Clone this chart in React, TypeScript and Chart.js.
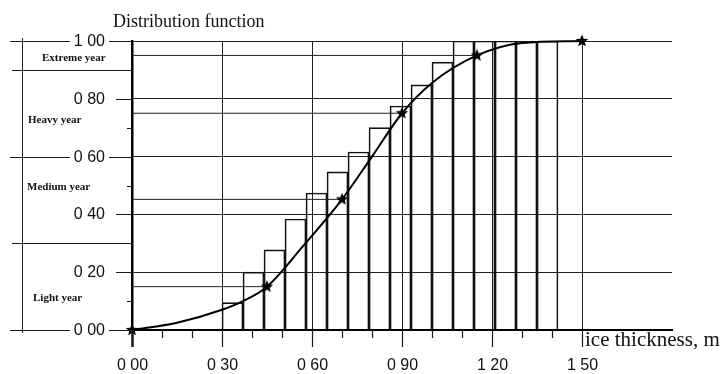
import React, { useEffect, useRef } from "react";
import { Chart, registerables } from "chart.js";

Chart.register(...registerables);

// ---- data ----
const binStarts = [0.30, 0.37, 0.44, 0.51, 0.58, 0.65, 0.72, 0.79, 0.86, 0.93, 1.00, 1.07, 1.14, 1.21, 1.28, 1.35];
const binWidth = 0.07;
const binValues = [0.095, 0.20, 0.277, 0.384, 0.474, 0.547, 0.616, 0.70, 0.775, 0.848, 0.927, 1.0, 1.0, 1.0, 1.0, 1.0];

const curveX = [0, 0.15, 0.30, 0.37, 0.45, 0.57, 0.70, 0.80, 0.90, 1.00, 1.15, 1.30, 1.50];
const curveY = [0, 0.025, 0.07, 0.10, 0.15, 0.29, 0.452, 0.60, 0.75, 0.855, 0.95, 0.993, 1.0];

const starX = [0, 0.45, 0.70, 0.90, 1.15, 1.50];
const starY = [0, 0.15, 0.452, 0.75, 0.95, 1.00];

const xTickValues = [0, 0.3, 0.6, 0.9, 1.2, 1.5];
const xTickLabels = ["0 00", "0 30", "0 60", "0 90", "1 20", "1 50"];
const xMinorTicks = [0.1, 0.2, 0.4, 0.5, 0.7, 0.8, 1.0, 1.1, 1.3, 1.4];

const yTickValues = [0, 0.2, 0.4, 0.6, 0.8, 1.0];
const yTickLabels = ["0 00", "0 20", "0 40", "0 60", "0 80", "1 00"];
const yMinorTicks = [0.1, 0.5, 0.7];

const yearNames = ["Light year", "Medium year", "Heavy year", "Extreme year"];
const yearBounds = [0.3, 0.9];
const yearLongBounds = [0, 0.6, 1.0];

const titleText = "Distribution function";
const xTitleText = "ice thickness, m";

// ---- layout (not data) ----
const yearLabelPos = [
  { px: 33, v: 0.111 },
  { px: 27, v: 0.495 },
  { px: 28, v: 0.727 },
  { px: 42, v: 0.941 },
];

function makeStar(): HTMLCanvasElement {
  const c = document.createElement("canvas");
  c.width = 14;
  c.height = 14;
  const g = c.getContext("2d")!;
  g.beginPath();
  for (let i = 0; i < 10; i++) {
    const r = i % 2 === 0 ? 6.5 : 2.9;
    const a = -Math.PI / 2 + (i * Math.PI) / 5;
    const px = 7 + r * Math.cos(a);
    const py = 7 + r * Math.sin(a);
    if (i === 0) g.moveTo(px, py);
    else g.lineTo(px, py);
  }
  g.closePath();
  g.fillStyle = "#000";
  g.fill();
  return c;
}

const overlay = {
  id: "overlay",
  afterDraw(chart: any) {
    const ctx: CanvasRenderingContext2D = chart.ctx;
    const xs = chart.scales.x;
    const ys = chart.scales.y;
    const x0 = xs.getPixelForValue(0);
    const y0 = ys.getPixelForValue(0);
    ctx.save();
    ctx.strokeStyle = "#1a1a1a";
    ctx.fillStyle = "#111";

    // x ticks below the axis
    ctx.lineWidth = 1.2;
    xMinorTicks.forEach((v) => {
      const p = Math.round(xs.getPixelForValue(v)) + 0.5;
      ctx.beginPath();
      ctx.moveTo(p, y0);
      ctx.lineTo(p, y0 + 8);
      ctx.stroke();
    });
    xTickValues.forEach((v, i) => {
      const p = Math.round(xs.getPixelForValue(v)) + 0.5;
      ctx.lineWidth = v === 0 ? 2.5 : 1.2;
      ctx.beginPath();
      ctx.moveTo(p, y0);
      ctx.lineTo(p, y0 + 17);
      ctx.stroke();
      ctx.font = "16px 'Liberation Sans', Arial, sans-serif";
      ctx.textAlign = "center";
      ctx.textBaseline = "middle";
      ctx.fillText(xTickLabels[i], p, y0 + 36);
    });

    // y ticks / labels
    ctx.lineWidth = 1;
    yMinorTicks.forEach((v) => {
      const p = Math.round(ys.getPixelForValue(v)) + 0.5;
      ctx.beginPath();
      ctx.moveTo(x0 - 5, p);
      ctx.lineTo(x0, p);
      ctx.stroke();
    });
    ctx.font = "16px 'Liberation Sans', Arial, sans-serif";
    ctx.textAlign = "right";
    ctx.textBaseline = "middle";
    yTickValues.forEach((v, i) => {
      const p = Math.round(ys.getPixelForValue(v)) + 0.5;
      const long = yearLongBounds.indexOf(v) >= 0;
      ctx.beginPath();
      ctx.moveTo(x0 - (long ? 23 : 16), p);
      ctx.lineTo(x0, p);
      ctx.stroke();
      ctx.fillText(yTickLabels[i], x0 - 27, p);
      if (long) {
        const w = ctx.measureText(yTickLabels[i]).width;
        ctx.beginPath();
        ctx.moveTo(10, p);
        ctx.lineTo(x0 - 27 - w - 4, p);
        ctx.stroke();
      }
    });

    // year classification box
    yearBounds.forEach((v) => {
      const p = Math.round(ys.getPixelForValue(v)) + 0.5;
      ctx.beginPath();
      ctx.moveTo(12, p);
      ctx.lineTo(x0, p);
      ctx.stroke();
    });
    ctx.beginPath();
    ctx.moveTo(22.5, ys.getPixelForValue(1) - 3);
    ctx.lineTo(22.5, y0 + 3);
    ctx.stroke();

    ctx.font = "bold 11px 'Liberation Serif', 'Times New Roman', serif";
    ctx.textAlign = "left";
    ctx.textBaseline = "middle";
    yearNames.forEach((n, i) => {
      ctx.fillText(n, yearLabelPos[i].px, ys.getPixelForValue(yearLabelPos[i].v));
    });

    // titles
    ctx.font = "18px 'Liberation Serif', 'Times New Roman', serif";
    ctx.textBaseline = "alphabetic";
    ctx.textAlign = "left";
    ctx.fillText(titleText, x0 - 19, ys.getPixelForValue(1) - 14);
    ctx.font = "21px 'Liberation Serif', 'Times New Roman', serif";
    ctx.fillText(xTitleText, xs.getPixelForValue(1.5) + 3, y0 + 16);

    ctx.restore();
  },
};

export default function App() {
  const ref = useRef<HTMLCanvasElement | null>(null);
  useEffect(() => {
    if (!ref.current) return;
    const star = makeStar();
    const thresholdSets = starX.slice(1, 5).map((sx, k) => ({
      type: "line" as const,
      data: [
        { x: 0, y: starY[k + 1] },
        { x: sx, y: starY[k + 1] },
      ],
      borderColor: "#222",
      borderWidth: 1,
      pointRadius: 0,
      order: 3,
      clip: false as any,
    }));
    const chart = new Chart(ref.current, {
      type: "line",
      data: {
        datasets: [
          {
            type: "bar",
            data: binStarts.map((s, i) => ({ x: s + binWidth / 2, y: binValues[i] })),
            backgroundColor: "rgba(255,255,255,0)",
            borderColor: "#111",
            borderWidth: 1,
            barPercentage: 1,
            categoryPercentage: 1,
            order: 4,
          } as any,
          ...thresholdSets,
          {
            type: "line",
            data: curveX.map((x, i) => ({ x, y: curveY[i] })),
            borderColor: "#000",
            borderWidth: 2,
            pointRadius: 0,
            cubicInterpolationMode: "monotone",
            order: 1,
            clip: false as any,
          },
          {
            type: "line",
            data: starX.map((x, i) => ({ x, y: starY[i] })),
            showLine: false,
            pointStyle: star as any,
            pointRadius: 7,
            order: 0,
            clip: false as any,
          },
        ],
      },
      options: {
        animation: false,
        responsive: false,
        devicePixelRatio: 1,
        layout: { padding: { left: 132, right: 49, top: 41, bottom: 44 } },
        plugins: {
          legend: { display: false },
          tooltip: { enabled: false },
          title: { display: false },
        },
        scales: {
          x: {
            type: "linear",
            min: 0,
            max: 1.8,
            offset: false,
            afterBuildTicks: (s: any) => {
              s.ticks = xTickValues.map((v) => ({ value: v }));
            },
            ticks: { display: false },
            grid: { color: "#222", lineWidth: 1, drawTicks: false, offset: false },
            border: { color: "#000", width: 2 },
          },
          y: {
            type: "linear",
            min: 0,
            max: 1.0,
            afterBuildTicks: (s: any) => {
              s.ticks = yTickValues.map((v) => ({ value: v }));
            },
            ticks: { display: false },
            grid: { color: "#222", lineWidth: 1, drawTicks: false },
            border: { color: "#000", width: 2.5 },
          },
        },
      },
      plugins: [overlay],
    });
    return () => chart.destroy();
  }, []);
  return (
    <div style={{ position: "absolute", left: 0, top: 0, width: 721, height: 374, background: "#fff" }}>
      <canvas ref={ref} width={721} height={374} style={{ display: "block" }} />
    </div>
  );
}
